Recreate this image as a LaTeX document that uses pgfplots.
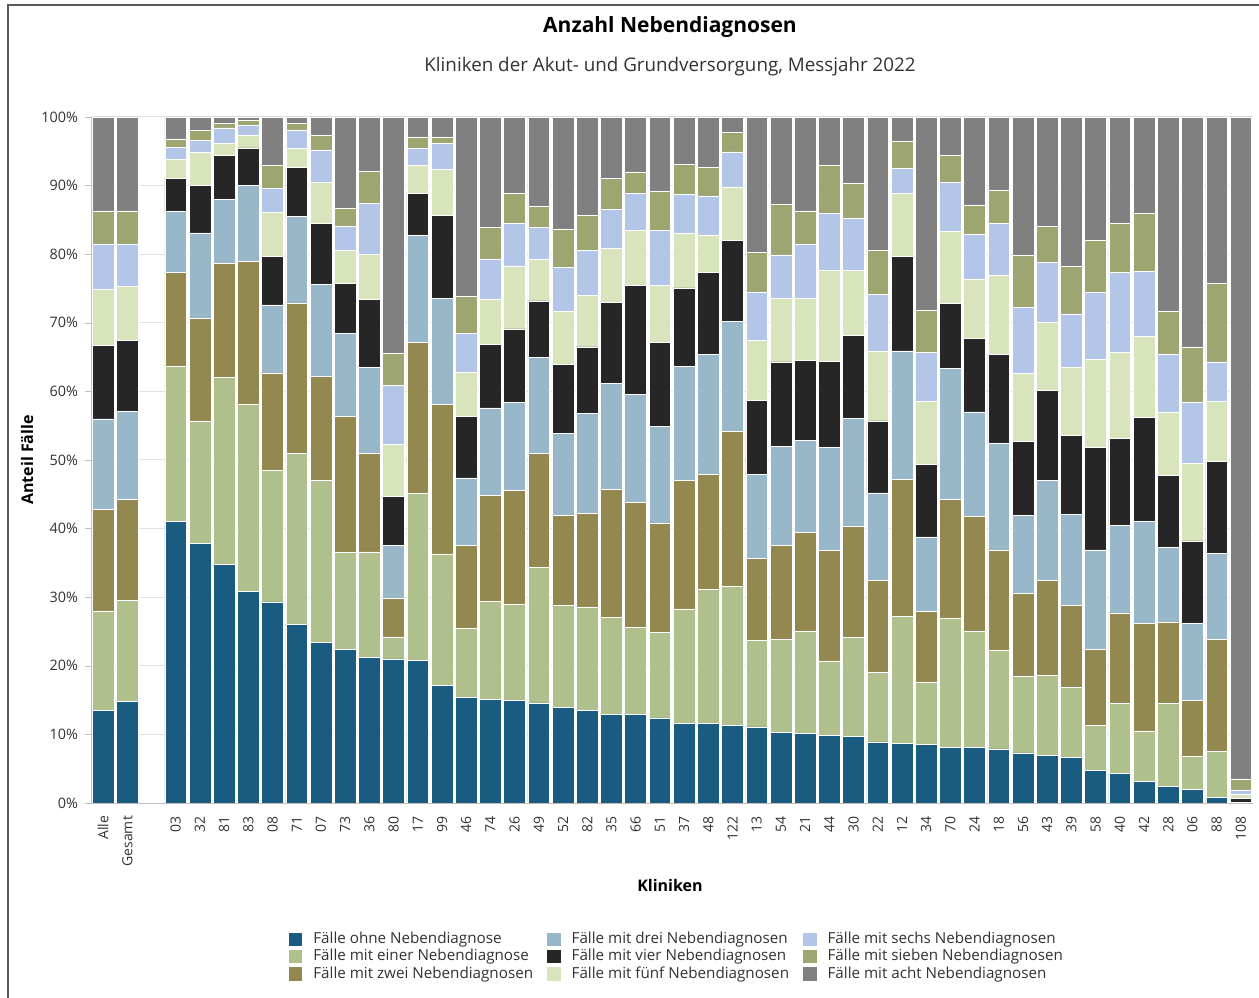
\documentclass[border=0pt]{standalone}
\usepackage{fontspec}
\setmainfont{Open Sans}
\usepackage{pgfplots}
\usepackage{pgfplotstable}
\pgfplotsset{compat=1.18}
\definecolor{c0}{RGB}{26,92,128}
\definecolor{c1}{RGB}{175,192,141}
\definecolor{c2}{RGB}{147,136,80}
\definecolor{c3}{RGB}{152,183,201}
\definecolor{c4}{RGB}{38,38,38}
\definecolor{c5}{RGB}{216,228,188}
\definecolor{c6}{RGB}{180,198,231}
\definecolor{c7}{RGB}{157,166,112}
\definecolor{c8}{RGB}{128,128,128}
\definecolor{txt}{RGB}{50,50,50}
\pgfplotstableread{
x d0 d1 d2 d3 d4 d5 d6 d7 d8
0 13.5 14.5 14.8 13.2 10.7 8.2 6.6 4.8 13.7
1 14.8 14.7 14.8 12.8 10.3 7.9 6.2 4.8 13.7
3 41.0 22.7 13.6 8.9 4.9 2.7 1.8 1.2 3.2
4 37.9 17.8 15.0 12.4 6.9 4.9 1.7 1.4 2.0
5 34.8 27.2 16.6 9.4 6.4 1.8 2.2 0.7 0.9
6 30.8 27.3 20.9 11.0 5.5 1.9 1.4 0.7 0.5
7 29.3 19.2 14.2 9.9 7.1 6.4 3.5 3.4 7.0
8 26.0 25.0 21.9 12.6 7.1 2.8 2.6 1.1 0.9
9 23.4 23.6 15.2 13.4 8.9 6.0 4.7 2.1 2.7
10 22.4 14.1 19.9 12.0 7.4 4.8 3.5 2.6 13.3
11 21.2 15.4 14.4 12.5 9.9 6.6 7.4 4.7 7.9
12 21.0 3.2 5.7 7.6 7.2 7.6 8.6 4.6 34.5
13 20.8 24.3 22.0 15.6 6.2 4.1 2.4 1.7 2.9
14 17.1 19.2 21.8 15.5 12.0 6.8 3.8 0.9 2.9
15 15.4 10.0 12.2 9.8 9.0 6.4 5.7 5.3 26.2
16 15.1 14.3 15.4 12.8 9.3 6.5 5.9 4.6 16.1
17 15.0 14.0 16.6 12.8 10.7 9.2 6.2 4.4 11.1
18 14.6 19.7 16.7 14.0 8.2 6.0 4.7 3.1 13.0
19 13.9 14.9 13.1 12.0 10.0 7.8 6.4 5.6 16.3
20 13.5 15.1 13.6 14.6 9.7 7.5 6.5 5.1 14.4
21 12.9 14.2 18.6 15.5 11.8 7.9 5.6 4.5 9.0
22 12.9 12.7 18.2 15.8 15.9 8.0 5.4 3.1 8.0
23 12.4 12.5 15.8 14.2 12.3 8.3 8.0 5.6 10.9
24 11.6 16.7 18.7 16.6 11.5 8.0 5.6 4.4 6.9
25 11.6 19.5 16.8 17.5 11.9 5.5 5.7 4.1 7.4
26 11.3 20.3 22.6 16.0 11.8 7.8 5.1 2.8 2.3
27 11.1 12.6 11.9 12.3 10.8 8.7 7.1 5.8 19.7
28 10.3 13.5 13.8 14.4 12.3 9.3 6.3 7.4 12.7
29 10.2 14.8 14.5 13.3 11.7 9.1 7.8 4.9 13.7
30 9.8 10.9 16.1 15.0 12.6 13.2 8.3 7.1 7.0
31 9.7 14.4 16.3 15.7 12.1 9.4 7.6 5.2 9.6
32 8.9 10.1 13.4 12.8 10.5 10.1 8.3 6.4 19.5
33 8.7 18.5 20.0 18.7 13.8 9.2 3.6 3.9 3.6
34 8.6 9.0 10.3 10.9 10.5 9.2 7.2 6.1 28.2
35 8.1 18.8 17.4 19.1 9.4 10.5 7.2 3.9 5.6
36 8.1 16.9 16.8 15.2 10.7 8.7 6.5 4.3 12.8
37 7.9 14.4 14.6 15.5 13.0 11.5 7.6 4.8 10.7
38 7.3 11.1 12.1 11.4 10.8 9.9 9.7 7.5 20.2
39 6.9 11.7 13.8 14.6 13.1 10.0 8.7 5.2 16.0
40 6.7 10.2 11.9 13.3 11.5 9.9 7.8 7.0 21.7
41 4.7 6.6 11.1 14.5 14.9 12.9 9.7 7.6 18.0
42 4.3 10.2 13.2 12.8 12.6 12.6 11.6 7.2 15.5
43 3.1 7.4 15.7 14.8 15.2 11.8 9.5 8.5 14.0
44 2.4 12.1 11.9 10.9 10.4 9.3 8.4 6.3 28.3
45 2.0 4.8 8.2 11.2 12.0 11.3 8.9 8.1 33.5
46 0.8 6.7 16.3 12.6 13.4 8.7 5.8 11.5 24.2
47 0.0 0.0 0.0 0.1 0.6 0.5 0.7 1.6 96.5
}\data
\begin{document}
\begin{tikzpicture}
\useasboundingbox (0,0) rectangle (629.5bp,499bp);
\draw[gray!70!black, line width=0.8bp] (4bp,0) -- (4bp,496.5bp) -- (629.5bp,496.5bp);
\node[font=\fontsize{10.5bp}{12bp}\selectfont\bfseries, text=black] at (335bp,485.5bp) {Anzahl Nebendiagnosen};
\node[font=\fontsize{9.4bp}{11bp}\selectfont, text=txt] at (335bp,465.5bp) {Kliniken der Akut- und Grundversorgung, Messjahr 2022};
\node[font=\fontsize{8bp}{10bp}\selectfont\bfseries, text=black, rotate=90] at (13.5bp,269bp) {Anteil Fälle};
\node[font=\fontsize{8bp}{10bp}\selectfont\bfseries, text=black] at (335bp,56bp) {Kliniken};
\begin{axis}[
  at={(45.5bp,97.5bp)}, anchor=south west,
  scale only axis, width=581bp, height=343bp,
  xmin=-0.5, xmax=47.5, ymin=0, ymax=100,
  ybar stacked, bar width=0.9,
  axis x line*=bottom, axis y line*=left,
  axis line style={draw=gray!50, -},
  ytick={0,10,...,100},
  yticklabel={\pgfmathprintnumber{\tick}\%},
  /pgf/number format/assume math mode=true,
  yticklabel style={font=\fontsize{7.2bp}{8bp}\selectfont, text=txt},
  ymajorgrids, grid style={gray!22, line width=0.5bp},
  tick align=outside, major tick length=3bp,
  tick style={gray!50},
  xtick={0,1,3,4,...,47},
  xticklabels={Alle,Gesamt,03,32,81,83,08,71,07,73,36,80,17,99,46,74,26,49,52,82,35,66,51,37,48,122,13,54,21,44,30,22,12,34,70,24,18,56,43,39,58,40,42,28,06,88,108},
  xticklabel style={rotate=90, anchor=east, font=\fontsize{7bp}{8bp}\selectfont, text=txt},
  x tick style={draw=none},
  minor xtick={-0.5,0.5,...,47.5},
  minor tick length=3bp,
  minor x tick style={gray!50},
  legend columns=3, transpose legend,
  legend style={at={(0.505,-0.176)}, anchor=north, draw=none, fill=none,
    font=\fontsize{7.6bp}{8.5bp}\selectfont, text=txt,
    /tikz/every odd column/.append style={column sep=3.5bp},
    /tikz/every even column/.append style={column sep=5bp},
    row sep=-2.6bp},
  legend cell align=left,
  legend image code/.code={\fill[#1,draw=none] (0bp,-3.3bp) rectangle (6.8bp,3.4bp);},
]
\addplot[fill=c0, draw=white, line width=0.3bp] table[x=x,y=d0]{\data};
\addplot[fill=c1, draw=white, line width=0.3bp] table[x=x,y=d1]{\data};
\addplot[fill=c2, draw=white, line width=0.3bp] table[x=x,y=d2]{\data};
\addplot[fill=c3, draw=white, line width=0.3bp] table[x=x,y=d3]{\data};
\addplot[fill=c4, draw=white, line width=0.3bp] table[x=x,y=d4]{\data};
\addplot[fill=c5, draw=white, line width=0.3bp] table[x=x,y=d5]{\data};
\addplot[fill=c6, draw=white, line width=0.3bp] table[x=x,y=d6]{\data};
\addplot[fill=c7, draw=white, line width=0.3bp] table[x=x,y=d7]{\data};
\addplot[fill=c8, draw=white, line width=0.3bp] table[x=x,y=d8]{\data};
\legend{Fälle ohne Nebendiagnose,Fälle mit einer Nebendiagnose,Fälle mit zwei Nebendiagnosen,Fälle mit drei Nebendiagnosen,Fälle mit vier Nebendiagnosen,Fälle mit fünf Nebendiagnosen,Fälle mit sechs Nebendiagnosen,Fälle mit sieben Nebendiagnosen,Fälle mit acht Nebendiagnosen}
\end{axis}
\end{tikzpicture}
\end{document}
